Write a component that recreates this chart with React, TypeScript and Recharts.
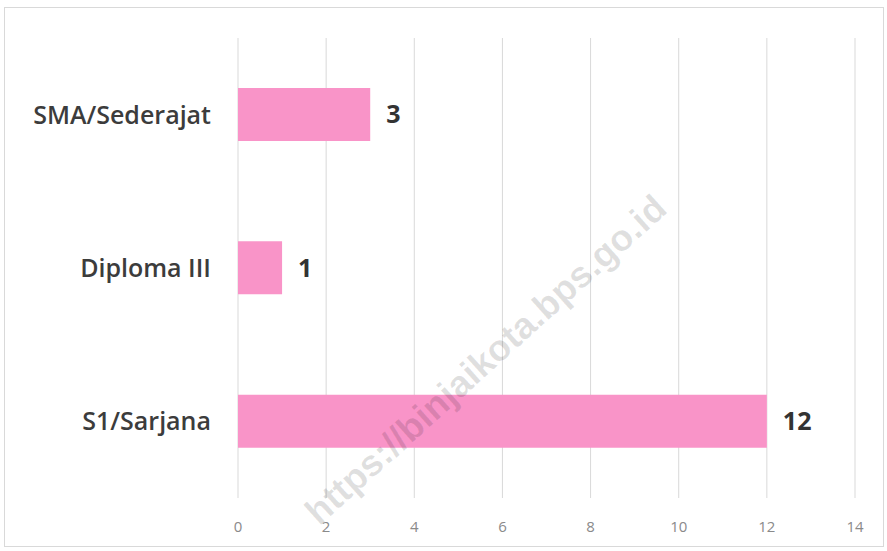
import React from 'react';
import { BarChart, Bar, XAxis, YAxis, CartesianGrid, LabelList } from 'recharts';

const categories = ['SMA/Sederajat', 'Diploma III', 'S1/Sarjana'];
const values = [3, 1, 12];
const xTicks = [0, 2, 4, 6, 8, 10, 12, 14];

const data = categories.map((c, i) => ({ name: c, value: values[i] }));

export default function App() {
  return (
    <div style={{ position: 'absolute', left: 0, top: 0, width: 887, height: 551, background: '#fff', overflow: 'hidden' }}>
      <div style={{ position: 'absolute', left: 4, top: 7, width: 880, height: 540, border: '1px solid #d9d9d9', boxSizing: 'border-box' }} />
      <BarChart
        width={887}
        height={551}
        data={data}
        layout="vertical"
        margin={{ top: 38, right: 32, bottom: 22, left: 0 }}
        barCategoryGap="32%"
      >
        <CartesianGrid horizontal={false} vertical={true} stroke="#d9d9d9" />
        <XAxis
          type="number"
          domain={[0, 14]}
          ticks={xTicks}
          axisLine={false}
          tickLine={false}
          tickMargin={17}
          height={31}
          tick={{ fill: '#8a8a8a', fontSize: 15, fontFamily: 'Open Sans' }}
        />
        <YAxis
          type="category"
          dataKey="name"
          width={238}
          axisLine={false}
          tickLine={false}
          tickSize={0}
          tickMargin={27}
          tick={{ fill: '#3c3c3c', fontSize: 25, fontFamily: 'Open Sans', fontWeight: 600 }}
        />
        <Bar dataKey="value" fill="#F994C8" barSize={53} isAnimationActive={false}>
          <LabelList
            dataKey="value"
            position="right"
            offset={16}
            style={{ fill: '#333', fontSize: 25, fontWeight: 700, fontFamily: 'Open Sans' }}
          />
        </Bar>
      </BarChart>
      <div
        style={{
          position: 'absolute',
          left: 486,
          top: 360,
          transform: 'translate(-50%, -50%) rotate(-42deg)',
          whiteSpace: 'nowrap',
          fontFamily: 'Arial, Liberation Sans, sans-serif',
          fontWeight: 700,
          fontSize: 37,
          color: 'rgba(0,0,0,0.12)',
          pointerEvents: 'none',
        }}
      >
        https://binjaikota.bps.go.id
      </div>
    </div>
  );
}
